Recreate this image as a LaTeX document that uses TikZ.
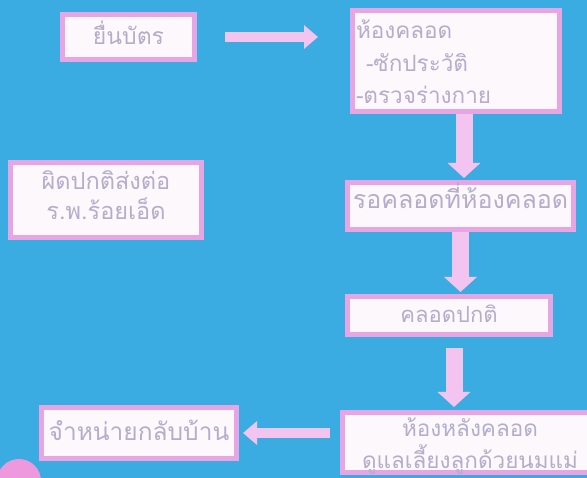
\documentclass[tikz,border=0pt]{standalone}
\usepackage{fontspec}
\newfontfamily\thaifont[Script=Thai]{Loma}
\usetikzlibrary{arrows.meta}
\definecolor{sky}{RGB}{58,172,226}
\definecolor{boxpink}{RGB}{232,165,228}
\definecolor{boxfill}{RGB}{252,248,252}
\definecolor{ink}{RGB}{182,172,204}
\definecolor{arrowpink}{RGB}{244,196,240}
\definecolor{dotpink}{RGB}{238,152,222}
\tikzset{
  stepbox/.style={draw=boxpink, line width=5pt, fill=boxfill, text=ink,
    inner sep=0pt, align=center},
  fs/.style 2 args={font=\thaifont\fontsize{#1}{#2}\selectfont},
  hflow/.style={draw=arrowpink, line width=10pt,
    -{Triangle[width=23pt,length=14pt]}},
  vflow/.style={draw=arrowpink, line width=17pt,
    -{Triangle[width=32pt,length=15pt]}}
}
% several lines set on a common baseline grid, the last baseline lowered by #1
\newcommand\rows[2]{\raisebox{-#1}[0pt][0pt]{\begin{tabular}[b]{@{}c@{}}#2\end{tabular}}}
\begin{document}
\begin{tikzpicture}[x=1pt,y=-1pt]
\fill[sky] (0,0) rectangle (587,478);
\useasboundingbox (0,0) rectangle (587,478);

% process steps
\node[stepbox, fs={23}{28}, text height=15pt, text depth=0pt,
      minimum width=132, minimum height=45] (card) at (128.5,37) {ยื่นบัตร};
\node[stepbox, fs={22.5}{32.5}, minimum width=207, minimum height=101] (labor) at (456,61)
      {\raisebox{-43pt}[0pt][0pt]{\makebox[200pt][l]{\begin{tabular}[b]{@{}l@{}}%
       ห้องคลอด\\\hspace*{10pt}-ซักประวัติ\\-ตรวจร่างกาย\end{tabular}}}};
\node[stepbox, fs={23.5}{28}, minimum width=191, minimum height=75] (refer) at (106,200)
      {\rows{19.3pt}{ผิดปกติส่งต่อ\\ร.พ.ร้อยเอ็ด}};
\node[stepbox, fs={25}{28}, text height=5.4pt, text depth=0pt,
      minimum width=226, minimum height=47] (wait) at (460.5,206) {รอคลอดที่ห้องคลอด};
\node[stepbox, fs={22}{28}, text height=14pt, text depth=0pt,
      minimum width=203, minimum height=38] (normal) at (449,315.5) {คลอดปกติ};
\node[stepbox, fs={22.5}{27}, minimum width=255, minimum height=60] (post) at (470,442.5)
      {\rows{25.5pt}{ห้องหลังคลอด\\ดูแลเลี้ยงลูกด้วยนมแม่}};
\node[stepbox, fs={24.5}{28}, text height=15.4pt, text depth=0pt,
      minimum width=195, minimum height=51] (home) at (139,433) {จำหน่ายกลับบ้าน};

% connectors
\draw[hflow] ([xshift=28pt]card.east) -- ([xshift=-32pt]labor.west |- card.east);
\draw[vflow] ([xshift=8pt]labor.south) -- ([xshift=8pt,yshift=2pt]labor.south |- wait.north);
\draw[vflow] (wait.south) -- ([yshift=2pt]wait.south |- normal.north);
\draw[vflow] ([xshift=5pt,yshift=-11pt]normal.south) -- ([xshift=5pt,yshift=3pt]normal.south |- post.north);
\draw[hflow] ([xshift=-10pt]post.west |- home.east) -- ([xshift=4pt]home.east);

% corner dot
\fill[dotpink] (19,481) circle[radius=22pt];
\end{tikzpicture}
\end{document}
